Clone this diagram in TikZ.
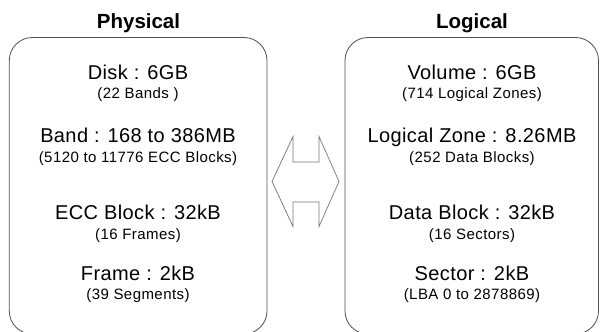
\documentclass[tikz,border=0pt]{standalone}
\usepackage{fontspec}
\setmainfont{Liberation Sans}
\newfontfamily\sizefont{Liberation Sans}[LetterSpace=2]
\newfontfamily\countfont{Liberation Sans}[LetterSpace=3]
\usetikzlibrary{positioning}
\definecolor{edgegray}{RGB}{80,80,80}

\begin{document}
\begin{tikzpicture}[
    x=1pt, y=-1pt,
    panel/.style={draw=edgegray, line width=0.8pt, rounded corners=23pt},
    swap/.style={draw=edgegray!80, line width=0.7pt, line join=miter},
    heading/.style={anchor=base, inner sep=0pt,
                font=\fontsize{20.5}{24}\selectfont\bfseries},
    unitsize/.style={anchor=base, inner sep=0pt,
                font=\sizefont\fontsize{20}{24}\selectfont},
    unitcount/.style={anchor=base, inner sep=0pt,
                font=\countfont\fontsize{15}{18}\selectfont}
]
    \useasboundingbox (0,0) rectangle (600,332);

    % Panels
    \draw[panel] (9.3,37.5) rectangle (267,334);
    \draw[panel] (345,37.5) rectangle (598.5,334);

    % Headings
    \node[heading] (phys) at (138.5,28) {Physical};
    \node[heading] (logi) at (472,28) {Logical};

    % Physical side
    \node[unitsize]  (disk)     at (138,79)    {Disk : 6GB};
    \node[unitcount] (diskn)    at (138,98.5)  {(22 Bands )};
    \node[unitsize]  (band)     at (138,142.5) {Band : 168 to 386MB};
    \node[unitcount] (bandn)    at (138,162)   {(5120 to 11776 ECC Blocks)};
    \node[unitsize]  (ecc)      at (138,219)   {ECC Block : 32kB};
    \node[unitcount] (eccn)     at (138,239.5) {(16 Frames)};
    \node[unitsize]  (frame)    at (138,280)   {Frame : 2kB};
    \node[unitcount] (framen)   at (138,299.5) {(39 Segments)};

    % Logical side
    \node[unitsize]  (volume)   at (472,79)    {Volume : 6GB};
    \node[unitcount] (volumen)  at (472,98.5)  {(714 Logical Zones)};
    \node[unitsize]  (zone)     at (472,142.5) {Logical Zone : 8.26MB};
    \node[unitcount] (zonen)    at (472,162)   {(252 Data Blocks)};
    \node[unitsize]  (dblock)   at (472,219)   {Data Block : 32kB};
    \node[unitcount] (dblockn)  at (472,239.5) {(16 Sectors)};
    \node[unitsize]  (sector)   at (472,280)   {Sector : 2kB};
    \node[unitcount] (sectorn)  at (472,299.5) {(LBA 0 to 2878869)};

    % Two-way arrow between the panels
    \draw[swap] (272,181.5) -- (293,136.5) -- (293,162) -- (319,162)
        -- (319,136.5) -- (339,181.5) -- (319,226.5) -- (319,202)
        -- (293,202) -- (293,226.5) -- cycle;
\end{tikzpicture}
\end{document}
